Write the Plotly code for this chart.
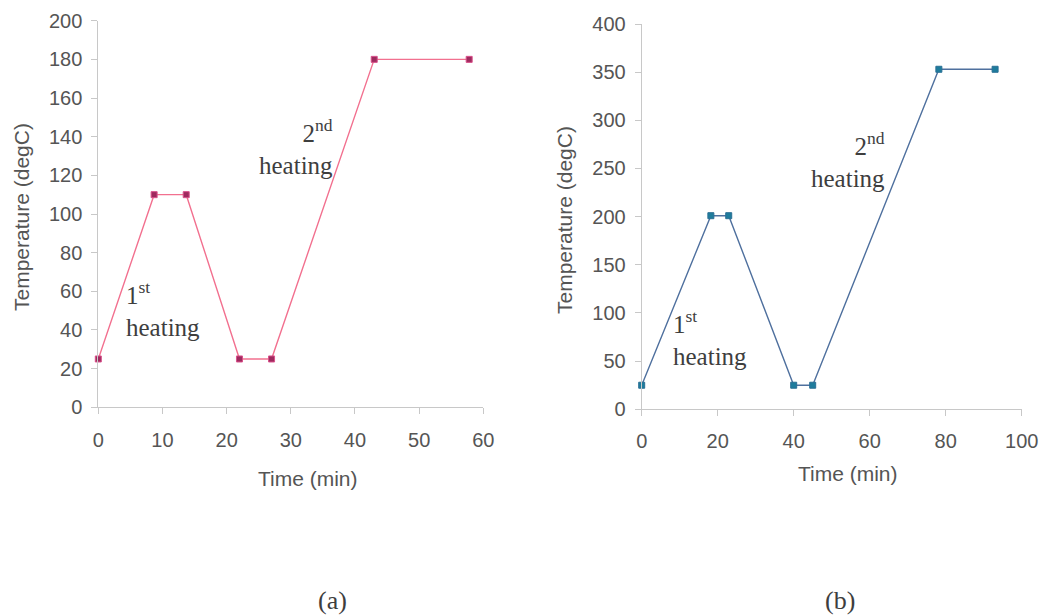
import plotly.graph_objects as go

# ---- data ----
time_a = [0, 8.7, 13.7, 22, 27, 43, 57.8]
temp_a = [25, 110, 110, 25, 25, 180, 180]

time_b = [0, 18.2, 22.9, 40, 45, 78.2, 93]
temp_b = [25, 201, 201, 25, 25, 353, 353]

xticks_a = [0, 10, 20, 30, 40, 50, 60]
yticks_a = [0, 20, 40, 60, 80, 100, 120, 140, 160, 180, 200]
xticks_b = [0, 20, 40, 60, 80, 100]
yticks_b = [0, 50, 100, 150, 200, 250, 300, 350, 400]

x_title = "Time (min)"
y_title = "Temperature (degC)"
panel_labels = ["(a)", "(b)"]

W, H = 1042, 615

fig = go.Figure()
fig.add_trace(go.Scatter(
    x=time_a, y=temp_a, mode="lines+markers", xaxis="x", yaxis="y",
    line=dict(color="#F2708F", width=1.4),
    marker=dict(symbol="square", size=6, color="#9E2A5E", line=dict(color="#D9508A", width=1)),
    cliponaxis=False, showlegend=False))
fig.add_trace(go.Scatter(
    x=time_b, y=temp_b, mode="lines+markers", xaxis="x2", yaxis="y2",
    line=dict(color="#4F709E", width=1.4),
    marker=dict(symbol="square", size=6, color="#1E7C9C", line=dict(color="#2A6F95", width=1)),
    cliponaxis=False, showlegend=False))

tickfont = dict(family="Liberation Sans, Arial, sans-serif", size=20, color="#555555")
axis_common = dict(showgrid=False, zeroline=False, showline=True, linecolor="#C8C8C8",
                   linewidth=1, ticks="outside", tickcolor="#C8C8C8", ticklen=6,
                   tickfont=tickfont, fixedrange=True, automargin=False)

def px_x(p):
    return p / W

def px_y(p):
    return 1 - p / H

fig.update_layout(
    width=W, height=H,
    margin=dict(l=0, r=0, t=0, b=0, pad=0),
    paper_bgcolor="white", plot_bgcolor="white",
    xaxis=dict(domain=[px_x(98.3), px_x(483.3)], range=[0, 60], tickvals=xticks_a,
               anchor="y", ticklabelstandoff=9, **axis_common),
    yaxis=dict(domain=[px_y(407.3), px_y(20.7)], range=[0, 200], tickvals=yticks_a,
               anchor="x", ticklabelstandoff=5, **axis_common),
    xaxis2=dict(domain=[px_x(641.7), px_x(1021.7)], range=[0, 100], tickvals=xticks_b,
                anchor="y2", ticklabelstandoff=8, **axis_common),
    yaxis2=dict(domain=[px_y(409.3), px_y(24)], range=[0, 400], tickvals=yticks_b,
                anchor="x2", ticklabelstandoff=5, **axis_common),
)

title_font = dict(family="Liberation Sans, Arial, sans-serif", size=21, color="#555555")
serif = dict(family="Liberation Serif, Times New Roman, serif", size=25, color="#3E3E3E")

annos = [
    # axis titles
    dict(text=x_title, x=px_x(308), y=px_y(478), font=title_font),
    dict(text=y_title, x=px_x(22), y=px_y(217), font=title_font, textangle=-90),
    dict(text=x_title, x=px_x(848), y=px_y(473), font=title_font),
    dict(text=y_title, x=px_x(565), y=px_y(220), font=title_font, textangle=-90),
    # panel labels
    dict(text=panel_labels[0], x=px_x(332), y=px_y(600), font=dict(serif, size=26)),
    dict(text=panel_labels[1], x=px_x(840), y=px_y(600), font=dict(serif, size=26)),
]
for a in annos:
    a.update(xref="paper", yref="paper", showarrow=False, xanchor="center", yanchor="middle")
    fig.add_annotation(**a)

# in-plot labels
fig.add_annotation(text="1<sup>st</sup><br>heating", x=4.0, y=51, xref="x", yref="y",
                   showarrow=False, xanchor="left", yanchor="middle", align="left", font=serif)
fig.add_annotation(text="2<sup>nd</sup><br>heating", x=36.9, y=134.5, xref="x", yref="y",
                   showarrow=False, xanchor="right", yanchor="middle", align="right", font=serif)
fig.add_annotation(text="1<sup>st</sup><br>heating", x=7.8, y=74, xref="x2", yref="y2",
                   showarrow=False, xanchor="left", yanchor="middle", align="left", font=serif)
fig.add_annotation(text="2<sup>nd</sup><br>heating", x=64.5, y=259, xref="x2", yref="y2",
                   showarrow=False, xanchor="right", yanchor="middle", align="right", font=serif)

fig.write_html("out.html", config=dict(displayModeBar=False))
